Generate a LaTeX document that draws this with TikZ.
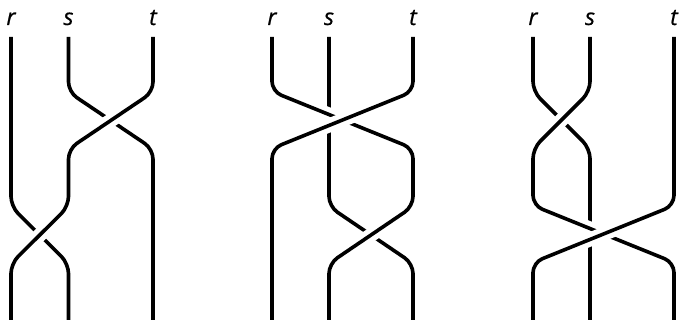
\documentclass[tikz,border=0pt]{standalone}
\usepackage{fontspec}
\setmainfont{Open Sans}
\newfontfamily\lblfont[FakeBold=0.6]{Open Sans}
\begin{document}
\begin{tikzpicture}[x=1pt,y=-1pt,
  strand/.style={draw=black,line width=3.6pt,rounded corners=10pt},
  overstrand/.style={strand,preaction={draw=white,line width=14pt,rounded corners=10pt}},
  lbl/.style={anchor=base,inner sep=0pt,font=\lblfont\fontsize{23}{27}\selectfont\itshape}]
\useasboundingbox (0,0) rectangle (680,320);
% ---------- diagram 1 ----------
\def\r{11}\def\s{68.5}\def\t{153}
\node[lbl] (l1r) at (\r,25) {r};
\node[lbl] (l1s) at (\s,25) {s};
\node[lbl] (l1t) at (\t,25) {t};
\path[strand] (\r,37) -- (\r,206.5) -- (\s,263.5) -- (\s,320);
\path[strand] (\s,37) -- (\s,92) -- (\t,149) -- (\t,320);
\path[overstrand] (\t,37) -- (\t,92) -- (\s,149) -- (\s,206.5) -- (\r,263.5) -- (\r,320);
% ---------- diagram 2 ----------
\def\r{272}\def\s{329}\def\t{413}
\node[lbl] (l2r) at (\r,25) {r};
\node[lbl] (l2s) at (\s,25) {s};
\node[lbl] (l2t) at (\t,25) {t};
\path[strand] (\s,37) -- (\s,206.5) -- (\t,263.5) -- (\t,320);
\path[overstrand] (\r,37) -- (\r,91.5) -- (\t,148.5) -- (\t,206.5) -- (\s,263.5) -- (\s,320);
\path[overstrand] (\t,37) -- (\t,91.5) -- (\r,148.5) -- (\r,320);
% ---------- diagram 3 ----------
\def\r{533}\def\s{590}\def\t{674}
\node[lbl] (l3r) at (\r,25) {r};
\node[lbl] (l3s) at (\s,25) {s};
\node[lbl] (l3t) at (\t,25) {t};
\path[strand] (\r,37) -- (\r,91.5) -- (\s,148.5) -- (\s,320);
\path[overstrand] (\s,37) -- (\s,91.5) -- (\r,148.5) -- (\r,205.5) -- (\t,262.5) -- (\t,320);
\path[overstrand] (\t,37) -- (\t,205.5) -- (\r,262.5) -- (\r,320);
\end{tikzpicture}
\end{document}
